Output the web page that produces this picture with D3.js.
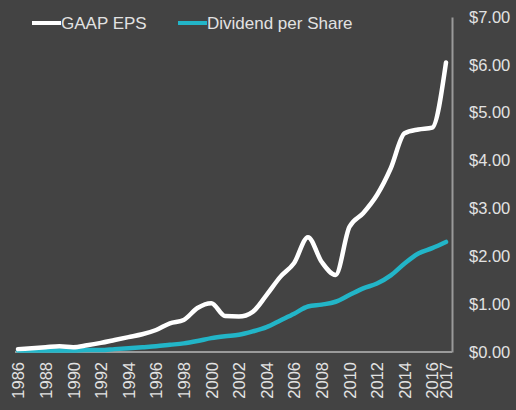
<!DOCTYPE html>
<html>
<head>
<meta charset="utf-8">
<script src="https://cdnjs.cloudflare.com/ajax/libs/d3/7.8.5/d3.min.js"></script>
<style>
  body { margin: 0; background: #434343; }
  svg { display: block; }
  text { font-family: "Liberation Sans", Arial, sans-serif; }
</style>
</head>
<body>
<div id="chart"></div>
<script>
// Years on the x axis and the two series
const years = d3.range(1986, 2018);
const epsValues = [0.06, 0.08, 0.10, 0.12, 0.10, 0.14, 0.19, 0.25, 0.31, 0.37,
                   0.46, 0.60, 0.67, 0.92, 1.02, 0.75, 0.74, 0.84, 1.19, 1.57,
                   1.86, 2.40, 1.88, 1.61, 2.61, 2.90, 3.28, 3.84, 4.57, 4.65,
                   4.69, 6.05];
const dividendValues = [0.03, 0.03, 0.03, 0.03, 0.03, 0.04, 0.04, 0.06, 0.08, 0.10,
                        0.12, 0.15, 0.18, 0.23, 0.29, 0.33, 0.36, 0.43, 0.52, 0.66,
                        0.80, 0.95, 0.99, 1.05, 1.19, 1.33, 1.43, 1.60, 1.85, 2.06,
                        2.17, 2.30];
const yTicks = [0, 1, 2, 3, 4, 5, 6, 7];
const xTickYears = d3.range(1986, 2017, 2).concat([2017]);
const seriesNames = ["GAAP EPS", "Dividend per Share"];

const width = 516, height = 410;
const colors = { eps: "#ffffff", div: "#22b5c8", axis: "#9a9a9a", label: "#e2e2e2" };

const svg = d3.select("#chart").append("svg")
  .attr("width", width)
  .attr("height", height);

// x runs from the first year to the last, y from $0 to $7
const x = d3.scaleLinear().domain([1986, 2017]).range([18, 446]);
const y = d3.scaleLinear().domain([0, 7]).range([352, 17]);

// right hand value axis
const yAxis = svg.append("g")
  .attr("transform", "translate(452,0)")
  .call(d3.axisRight(y).tickValues(yTicks).tickSize(0).tickPadding(17)
    .tickFormat(d => "$" + d3.format(".2f")(d)));
yAxis.select(".domain").attr("stroke", colors.axis).attr("stroke-width", 2);
yAxis.selectAll("text")
  .attr("fill", colors.label)
  .attr("font-size", 16.5);

// bottom year axis, labels turned on their side
const xAxis = svg.append("g")
  .attr("transform", "translate(0,352)")
  .call(d3.axisBottom(x).tickValues(xTickYears).tickSize(0).tickFormat(d3.format("d")));
xAxis.select(".domain").attr("d", "M15,0H452").attr("stroke", colors.axis).attr("stroke-width", 2);
xAxis.selectAll("text")
  .attr("fill", colors.label)
  .attr("font-size", 16.5)
  .attr("text-anchor", "end")
  .attr("transform", "rotate(-90)")
  .attr("x", -10)
  .attr("y", 0)
  .attr("dy", "0.35em");

// the two lines
const line = d3.line()
  .x((d, i) => x(years[i]))
  .y(d => y(d))
  .curve(d3.curveMonotoneX);

svg.append("path")
  .datum(dividendValues)
  .attr("fill", "none")
  .attr("stroke", colors.div)
  .attr("stroke-width", 4.5)
  .attr("stroke-linejoin", "round")
  .attr("stroke-linecap", "round")
  .attr("d", line);

svg.append("path")
  .datum(epsValues)
  .attr("fill", "none")
  .attr("stroke", colors.eps)
  .attr("stroke-width", 4.5)
  .attr("stroke-linejoin", "round")
  .attr("stroke-linecap", "round")
  .attr("d", line);

// legend across the top
const legendItems = [
  { name: seriesNames[0], color: colors.eps, x0: 32 },
  { name: seriesNames[1], color: colors.div, x0: 178 }
];
const legend = svg.selectAll(".legend")
  .data(legendItems)
  .enter()
  .append("g")
  .attr("transform", d => `translate(${d.x0},23)`);

legend.append("line")
  .attr("x1", 0).attr("x2", 29)
  .attr("stroke", d => d.color)
  .attr("stroke-width", 4);

legend.append("text")
  .attr("x", 29)
  .attr("dy", "0.35em")
  .attr("fill", colors.label)
  .attr("font-size", 17)
  .text(d => d.name);
</script>
</body>
</html>
